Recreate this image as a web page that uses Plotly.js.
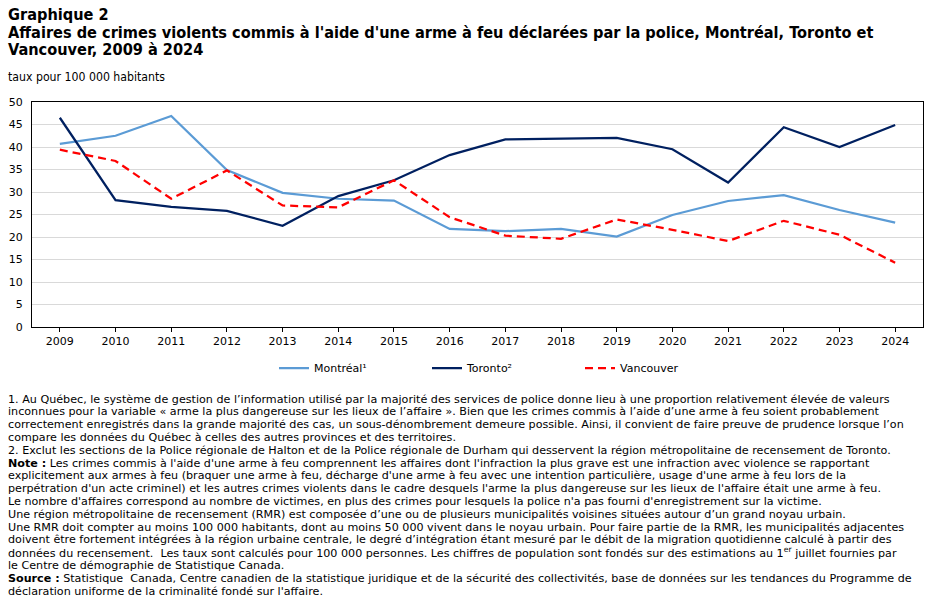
<!DOCTYPE html>
<html>
<head>
<meta charset="utf-8">
<script src="https://cdn.plot.ly/plotly-3.0.1.min.js"></script>
<style>
  html, body { margin: 0; padding: 0; background: #ffffff; }
  #chart { width: 927px; height: 605px; }
</style>
</head>
<body>
<div id="chart"></div>
<script>
// Taux d'affaires de crimes violents commis à l'aide d'une arme à feu, pour 100 000 habitants
const years = ['2009','2010','2011','2012','2013','2014','2015','2016','2017','2018','2019','2020','2021','2022','2023','2024'];
const montreal  = [40.7, 42.5, 46.9, 34.9, 29.8, 28.5, 28.1, 21.8, 21.3, 21.8, 20.1, 24.9, 28.0, 29.3, 26.0, 23.2];
const toronto   = [46.5, 28.2, 26.7, 25.8, 22.5, 29.1, 32.6, 38.2, 41.7, 41.9, 42.0, 39.5, 32.1, 44.4, 40.0, 44.9];
const vancouver = [39.4, 36.9, 28.5, 34.8, 27.0, 26.6, 32.6, 24.4, 20.3, 19.6, 23.9, 21.6, 19.1, 23.6, 20.5, 14.3];
const seriesNames = ['Montréal¹', 'Toronto²', 'Vancouver'];
const yTicks = [0, 5, 10, 15, 20, 25, 30, 35, 40, 45, 50];

const titleLines = [
  'Graphique 2',
  "Affaires de crimes violents commis à l'aide d'une arme à feu déclarées par la police, Montréal, Toronto et",
  'Vancouver, 2009 à 2024'
];
const unitLabel = 'taux pour 100 000 habitants';

const noteLines = [
  "1. Au Québec, le système de gestion de l’information utilisé par la majorité des services de police donne lieu à une proportion relativement élevée de valeurs",
  "inconnues pour la variable « arme la plus dangereuse sur les lieux de l’affaire ». Bien que les crimes commis à l’aide d’une arme à feu soient probablement",
  "correctement enregistrés dans la grande majorité des cas, un sous-dénombrement demeure possible. Ainsi, il convient de faire preuve de prudence lorsque l’on",
  "compare les données du Québec à celles des autres provinces et des territoires.",
  "2. Exclut les sections de la Police régionale de Halton et de la Police régionale de Durham qui desservent la région métropolitaine de recensement de Toronto.",
  "<b>Note :</b> Les crimes commis à l'aide d'une arme à feu comprennent les affaires dont l'infraction la plus grave est une infraction avec violence se rapportant",
  "explicitement aux armes à feu (braquer une arme à feu, décharge d'une arme à feu avec une intention particulière, usage d'une arme à feu lors de la",
  "perpétration d'un acte criminel) et les autres crimes violents dans le cadre desquels l'arme la plus dangereuse sur les lieux de l'affaire était une arme à feu.",
  "Le nombre d'affaires correspond au nombre de victimes, en plus des crimes pour lesquels la police n'a pas fourni d'enregistrement sur la victime.",
  "Une région métropolitaine de recensement (RMR) est composée d’une ou de plusieurs municipalités voisines situées autour d’un grand noyau urbain.",
  "Une RMR doit compter au moins 100 000 habitants, dont au moins 50 000 vivent dans le noyau urbain. Pour faire partie de la RMR, les municipalités adjacentes",
  "doivent être fortement intégrées à la région urbaine centrale, le degré d’intégration étant mesuré par le débit de la migration quotidienne calculé à partir des",
  "données du recensement.  Les taux sont calculés pour 100 000 personnes. Les chiffres de population sont fondés sur des estimations au 1<sup>er</sup> juillet fournies par",
  "le Centre de démographie de Statistique Canada.",
  "<b>Source :</b> Statistique  Canada, Centre canadien de la statistique juridique et de la sécurité des collectivités, base de données sur les tendances du Programme de",
  "déclaration uniforme de la criminalité fondé sur l'affaire."
];

// Plot-area geometry (pixels) used to place the free text around the chart
const W = 927, H = 605;
const M = { l: 32, r: 4, t: 102, b: 278 };
const plotW = W - M.l - M.r, plotH = H - M.t - M.b;
const px = x => (x - M.l) / plotW;
const py = y => (H - M.b - y) / plotH;

const FONT = 'Verdana, "DejaVu Sans", sans-serif';
const TITLE_FONT = '"DejaVu Sans Condensed", "DejaVu Sans", sans-serif';

const traces = [
  { x: years, y: montreal, name: seriesNames[0], type: 'scatter', mode: 'lines',
    line: { color: '#5b9bd5', width: 2.25 } },
  { x: years, y: toronto, name: seriesNames[1], type: 'scatter', mode: 'lines',
    line: { color: '#002060', width: 2.25 } },
  { x: years, y: vancouver, name: seriesNames[2], type: 'scatter', mode: 'lines',
    line: { color: '#ff0000', width: 2.25, dash: '8px,5px' } }
];

const annotations = [];
titleLines.forEach((t, i) => {
  annotations.push({
    text: '<b>' + t + '</b>', xref: 'paper', yref: 'paper',
    x: px(6), y: py(14.5 + i * 17.5), xanchor: 'left', yanchor: 'middle',
    showarrow: false, align: 'left',
    font: { family: TITLE_FONT, size: 16.2, color: '#000000' }
  });
});
annotations.push({
  text: unitLabel, xref: 'paper', yref: 'paper',
  x: px(6), y: py(77), xanchor: 'left', yanchor: 'middle',
  showarrow: false, font: { family: TITLE_FONT, size: 12.2, color: '#000000' }
});
noteLines.forEach((t, i) => {
  annotations.push({
    text: t, xref: 'paper', yref: 'paper',
    x: px(6), y: py(399 + i * 12.8), xanchor: 'left', yanchor: 'middle',
    showarrow: false, align: 'left',
    font: { family: FONT, size: 11.15, color: '#000000' }
  });
});

const layout = {
  width: W, height: H,
  margin: M,
  paper_bgcolor: '#ffffff', plot_bgcolor: '#ffffff',
  showlegend: true,
  legend: {
    orientation: 'h', x: px(274), xanchor: 'left', y: py(368), yanchor: 'middle',
    font: { family: FONT, size: 11, color: '#000000' },
    itemwidth: 30, entrywidth: 108, entrywidthmode: 'pixels',
    traceorder: 'normal'
  },
  xaxis: {
    type: 'category', range: [-0.5, years.length - 0.5],
    showline: true, linecolor: '#000000', linewidth: 1, mirror: true,
    ticks: 'outside', ticklen: 4, tickcolor: '#000000', tickwidth: 1,
    showgrid: false, zeroline: false, fixedrange: true,
    tickfont: { family: FONT, size: 11, color: '#000000' }
  },
  yaxis: {
    range: [0, 50], tickvals: yTicks, ticktext: yTicks.map(String),
    showline: true, linecolor: '#000000', linewidth: 1, mirror: true,
    ticks: '', ticklabelstandoff: 6,
    showgrid: true, gridcolor: '#d9d9d9', gridwidth: 1, zeroline: false,
    tickfont: { family: FONT, size: 11, color: '#000000' }
  },
  annotations: annotations
};

Plotly.newPlot('chart', traces, layout, { staticPlot: true, displayModeBar: false });
</script>
</body>
</html>
